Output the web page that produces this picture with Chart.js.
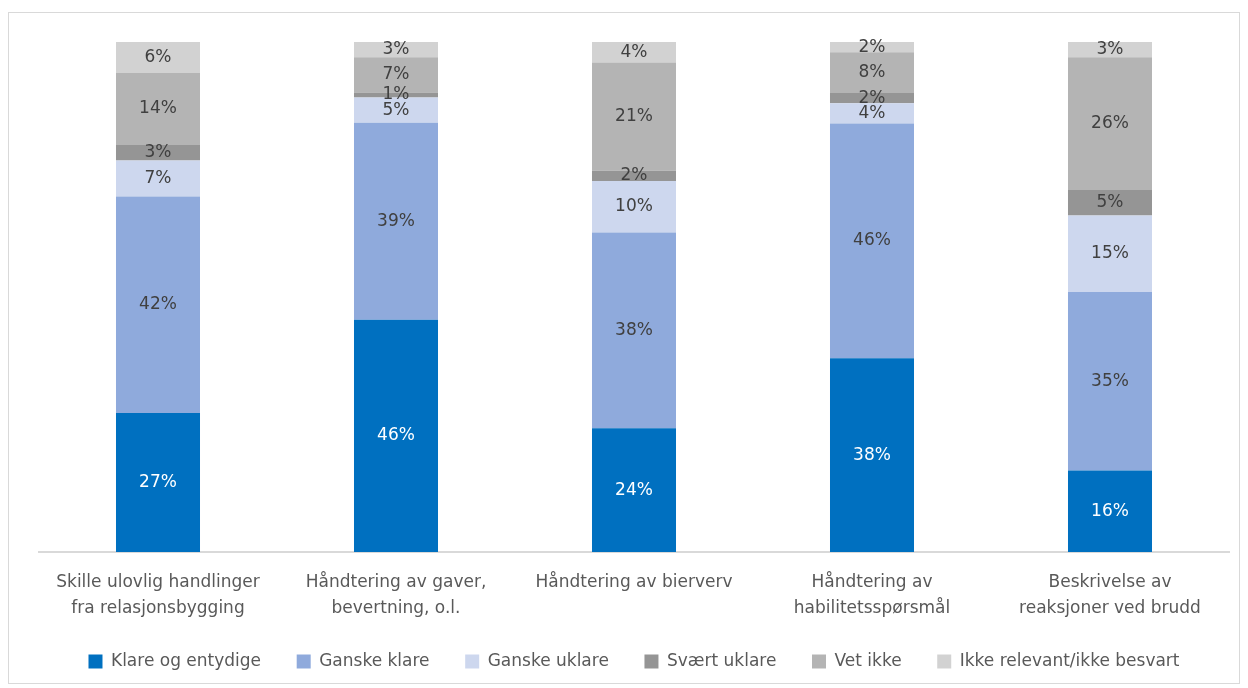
<!DOCTYPE html>
<html>
<head>
<meta charset="utf-8">
<script src="https://cdn.jsdelivr.net/npm/chart.js@4"></script>
<style>
  body { margin: 0; background: #fff; }
  #wrap { position: relative; width: 1248px; height: 688px; }
  #frame { position: absolute; left: 8px; top: 12px; width: 1232px; height: 672px; border: 1px solid #d9d9d9; box-sizing: border-box; pointer-events: none; }
  canvas { position: absolute; left: 0; top: 0; }
</style>
</head>
<body>
<div id="wrap">
  <canvas id="chart" width="1248" height="688"></canvas>
  <div id="frame"></div>
</div>
<script>
// categories (two-line tick labels)
const categories = [
    ['Skille ulovlig handlinger', 'fra relasjonsbygging'],
    ['Håndtering av gaver,', 'bevertning, o.l.'],
    ['Håndtering av bierverv'],
    ['Håndtering av', 'habilitetsspørsmål'],
    ['Beskrivelse av', 'reaksjoner ved brudd']
];

// series values, percent as printed on the bars
const klare      = [27, 46, 24, 38, 16];
const ganskeKlare = [42, 39, 38, 46, 35];
const ganskeUklare = [7, 5, 10, 4, 15];
const svaertUklare = [3, 1, 2, 2, 5];
const vetIkke    = [14, 7, 21, 8, 26];
const ikkeRelevant = [6, 3, 4, 2, 3];

const seriesNames = ['Klare og entydige', 'Ganske klare', 'Ganske uklare', 'Svært uklare', 'Vet ikke', 'Ikke relevant/ikke besvart'];
const seriesColors = ['#0070c0', '#8faadc', '#cdd7ee', '#959595', '#b4b4b4', '#d2d2d2'];
const labelColors = ['#ffffff', '#404040', '#404040', '#404040', '#404040', '#404040'];

const allSeries = [klare, ganskeKlare, ganskeUklare, svaertUklare, vetIkke, ikkeRelevant];

// each bar is shown as 100 %, so scale the printed values to their column total
const totals = categories.map((c, i) => allSeries.reduce((s, arr) => s + arr[i], 0));

const FONT = '"DejaVu Sans", sans-serif';

const segmentLabels = {
    id: 'segmentLabels',
    afterDatasetsDraw(chart) {
        const ctx = chart.ctx;
        ctx.save();
        ctx.font = '17px ' + FONT;
        ctx.textAlign = 'center';
        ctx.textBaseline = 'middle';
        chart.data.datasets.forEach((ds, di) => {
            const meta = chart.getDatasetMeta(di);
            meta.data.forEach((bar, i) => {
                const y = (bar.y + bar.base) / 2;
                ctx.fillStyle = labelColors[di];
                ctx.fillText(allSeries[di][i] + '%', bar.x, y);
            });
        });
        ctx.restore();
    }
};

const ctx = document.getElementById('chart').getContext('2d');
const chart = new Chart(ctx, {
    type: 'bar',
    data: {
        labels: categories,
        datasets: allSeries.map((arr, di) => ({
            label: seriesNames[di],
            data: arr.map((v, i) => v / totals[i] * 100),
            backgroundColor: seriesColors[di],
            borderWidth: 0,
            barPercentage: 0.353,
            categoryPercentage: 1.0
        }))
    },
    options: {
        responsive: false,
        animation: false,
        layout: {
            padding: { left: 39, right: 19, top: 42, bottom: 8 }
        },
        plugins: {
            tooltip: { enabled: false },
            legend: {
                display: true,
                position: 'bottom',
                labels: {
                    boxWidth: 14,
                    boxHeight: 14,
                    padding: 14,
                    color: '#595959',
                    font: { family: FONT, size: 17 },
                    // wider gaps between items without making the legend taller
                    generateLabels(chart) {
                        const items = Chart.defaults.plugins.legend.labels.generateLabels(chart);
                        items.forEach((it, i) => {
                            if (i < items.length - 1) it.text = it.text + '    ';
                        });
                        return items;
                    }
                }
            }
        },
        scales: {
            x: {
                stacked: true,
                grid: { display: false, drawTicks: false },
                border: { display: true, color: '#d9d9d9', width: 2 },
                ticks: {
                    color: '#595959',
                    padding: 18,
                    maxRotation: 0,
                    autoSkip: false,
                    font: { family: FONT, size: 17, lineHeight: 1.5 }
                }
            },
            y: {
                stacked: true,
                display: false,
                min: 0,
                max: 100
            }
        }
    },
    plugins: [segmentLabels]
});
</script>
</body>
</html>
